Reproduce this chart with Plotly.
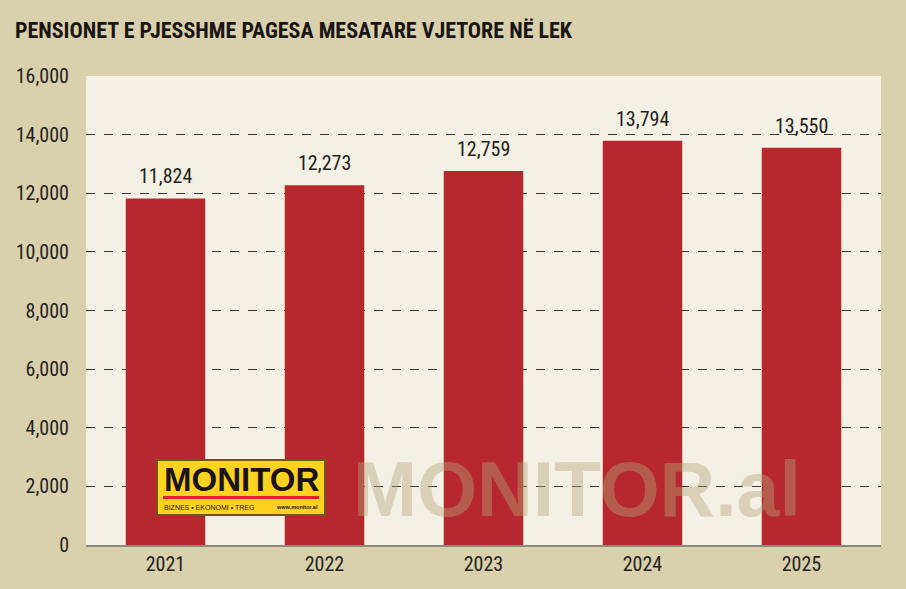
import plotly.graph_objects as go

years = ["2021", "2022", "2023", "2024", "2025"]
values = [11824, 12273, 12759, 13794, 13550]
tick_vals = [0, 2000, 4000, 6000, 8000, 10000, 12000, 14000, 16000]
tick_text = ["0", "2,000", "4,000", "6,000", "8,000", "10,000", "12,000", "14,000", "16,000"]

FONT = "Liberation Sans Narrow, Arial Narrow, Roboto Condensed, Liberation Sans, sans-serif"
SANS = "Liberation Sans, Arial, sans-serif"

fig = go.Figure()
fig.add_trace(go.Bar(
    x=years, y=values, width=0.5,
    marker=dict(color="#B7282E", line=dict(width=0)),
))

for i, v in enumerate(values):
    fig.add_annotation(x=i, y=v, text=f"{v:,}", showarrow=False,
                       xanchor="center", yanchor="bottom", yshift=8,
                       font=dict(family=FONT, size=20, color="#231F20"))

fig.update_layout(
    width=906, height=589,
    margin=dict(l=86, r=25, t=76, b=44),
    paper_bgcolor="#D9D1AD",
    plot_bgcolor="#F3F0E4",
    showlegend=False,
    font=dict(family=FONT, color="#231F20"),
    title=dict(text="<b>PENSIONET E PJESSHME PAGESA MESATARE VJETORE NË LEK</b>",
               x=0.0165, xanchor="left", y=0.948, yanchor="middle",
               font=dict(family=FONT, size=22, color="#1A1613")),
    xaxis=dict(type="category", range=[-0.5, len(years) - 0.5], showgrid=False, ticks="",
               tickfont=dict(size=20, family=FONT, color="#231F20"),
               showline=True, linecolor="#8E8A7E", linewidth=2),
    yaxis=dict(range=[0, 16000], tickvals=tick_vals, ticktext=tick_text,
               tickfont=dict(size=20, family=FONT, color="#231F20"),
               showgrid=True, gridcolor="#3A3530", griddash="dash", gridwidth=1,
               zeroline=False, ticks="", ticklabelstandoff=16),
)

# Watermark
fig.add_annotation(text="<b>MONITOR.al</b>", xref="paper", yref="paper",
                   x=(577-86)/795, y=(545-489)/469, xanchor="center", yanchor="middle", showarrow=False,
                   font=dict(family=SANS, size=77, color="rgba(178,164,122,0.42)"))

# Logo box
fig.add_shape(type="rect", xref="paper", yref="paper",
              x0=(157-86)/795, x1=(325-86)/795, y0=(545-515)/469, y1=(545-460)/469,
              fillcolor="#FFD21F", line=dict(color="#6B5A10", width=2), layer="above")
fig.add_shape(type="rect", xref="paper", yref="paper",
              x0=(163-86)/795, x1=(319-86)/795, y0=(545-499)/469, y1=(545-496)/469,
              fillcolor="#E4242B", line=dict(width=0), layer="above")
fig.add_annotation(text="<b>MONITOR</b>", xref="paper", yref="paper",
                   x=(241-86)/795, y=(545-479)/469, xanchor="center", yanchor="middle", showarrow=False,
                   font=dict(family=SANS, size=33, color="#1A1410"))
fig.add_annotation(text="BIZNES • EKONOMI • TREG", xref="paper", yref="paper",
                   x=(162-86)/795, y=(545-507)/469, xanchor="left", yanchor="middle", showarrow=False,
                   font=dict(family=SANS, size=7, color="#1A1410"))
fig.add_annotation(text="<b>www.monitor.al</b>", xref="paper", yref="paper",
                   x=(320-86)/795, y=(545-507)/469, xanchor="right", yanchor="middle", showarrow=False,
                   font=dict(family=SANS, size=5.5, color="#1A1410"))

fig.write_html("out.html")
